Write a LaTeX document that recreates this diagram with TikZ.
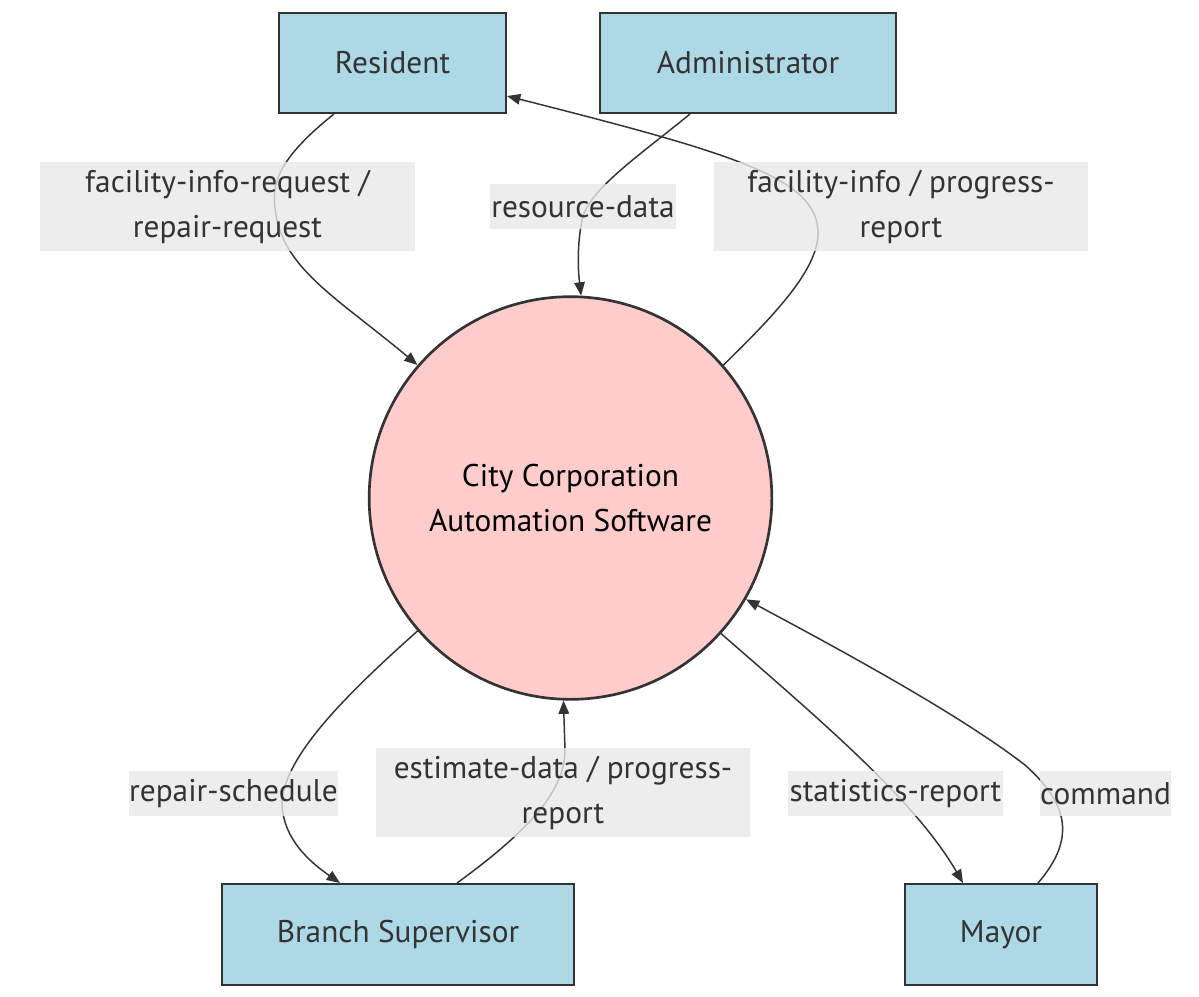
\documentclass[tikz,border=0pt]{standalone}
\usepackage{fontspec}
\setmainfont{PT Sans}
\usetikzlibrary{arrows.meta,calc}
\definecolor{boxfill}{HTML}{ADD8E6}
\definecolor{edgec}{HTML}{333333}
\definecolor{circfill}{HTML}{FFCCCC}
\definecolor{lblfill}{HTML}{E8E8E8}
\begin{document}
\begin{tikzpicture}[x=0.75pt,y=-0.75pt,
  font=\fontsize{23.5}{33.75}\selectfont,
  entity/.style={draw=edgec,line width=1.5pt,fill=boxfill,text=edgec,inner sep=0pt,align=center},
  proc/.style={circle,draw=edgec,line width=2pt,fill=circfill,text=black,inner sep=0pt,minimum size=302pt,align=center},
  lbl/.style={fill=lblfill,fill opacity=0.8,text opacity=1,text=edgec,inner sep=0pt,align=center},
  flow/.style={draw=edgec,line width=1.1pt,-{Triangle[length=10pt,width=8pt]}}]
\useasboundingbox (0,0) rectangle (1199,996);
% nodes
\node[entity,minimum width=170.25pt,minimum height=75pt] (res) at (392.5,63) {Resident};
\node[entity,minimum width=222pt,minimum height=75pt] (adm) at (748,63) {Administrator};
\node[proc] (ccas) at (570.5,498) {City Corporation\\Automation Software};
\node[entity,minimum width=264pt,minimum height=75.75pt] (br) at (398,934.5) {Branch Supervisor};
\node[entity,minimum width=144pt,minimum height=75.75pt] (may) at (1001,934.5) {Mayor};
% edges
\draw[flow] ($(res.south)+(-58.5,0)$) .. controls (270,165) and (272,190) .. (276,215) .. controls (285,270) and (340,300) .. (ccas.139.5);
\draw[flow] ($(adm.south)+(-58,0)$) .. controls (640,155) and (588,190) .. (582,220) .. controls (577,245) and (578,270) .. (ccas.87.7);
\draw[flow] (ccas.41.4) .. controls (790,300) and (835,250) .. (812,210) .. controls (790,170) and (700,145) .. ($(res.east)+(0,33)$);
\draw[flow] (ccas.221.4) .. controls (340,700) and (282,760) .. (282,805) .. controls (284,840) and (310,862) .. ($(br.north)+(-58,0)$);
\draw[flow] ($(br.north)+(59,0)$) .. controls (530,830) and (565,790) .. (565,750) -- (ccas.268.6);
\draw[flow] (ccas.318.2) .. controls (820,720) and (915,800) .. ($(may.north)+(-38,0)$);
\draw[flow] ($(may.north)+(37,0)$) .. controls (1075,840) and (1070,805) .. (1025,765) .. controls (960,715) and (850,655) .. (ccas.330.2);
% labels
\node[lbl,minimum width=281.25pt,minimum height=66.75pt] (l1) at (227.5,206.5) {facility-info-request /\\repair-request};
\node[lbl,minimum width=139.5pt,minimum height=33.75pt] (l2) at (583,206.5) {resource-data};
\node[lbl,minimum width=280.5pt,minimum height=66.75pt] (l3) at (901,206.5) {facility-info / progress-\\report};
\node[lbl,minimum width=156.75pt,minimum height=33.75pt] (l4) at (233.5,793.5) {repair-schedule};
\node[lbl,minimum width=280.5pt,minimum height=66.75pt] (l5) at (563,792.5) {estimate-data / progress-\\report};
\node[lbl,minimum width=161.25pt,minimum height=33.75pt] (l6) at (895.5,793.5) {statistics-report};
\node[lbl,minimum width=96.75pt,minimum height=33.75pt] (l7) at (1105.5,793.5) {command};
\end{tikzpicture}
\end{document}
